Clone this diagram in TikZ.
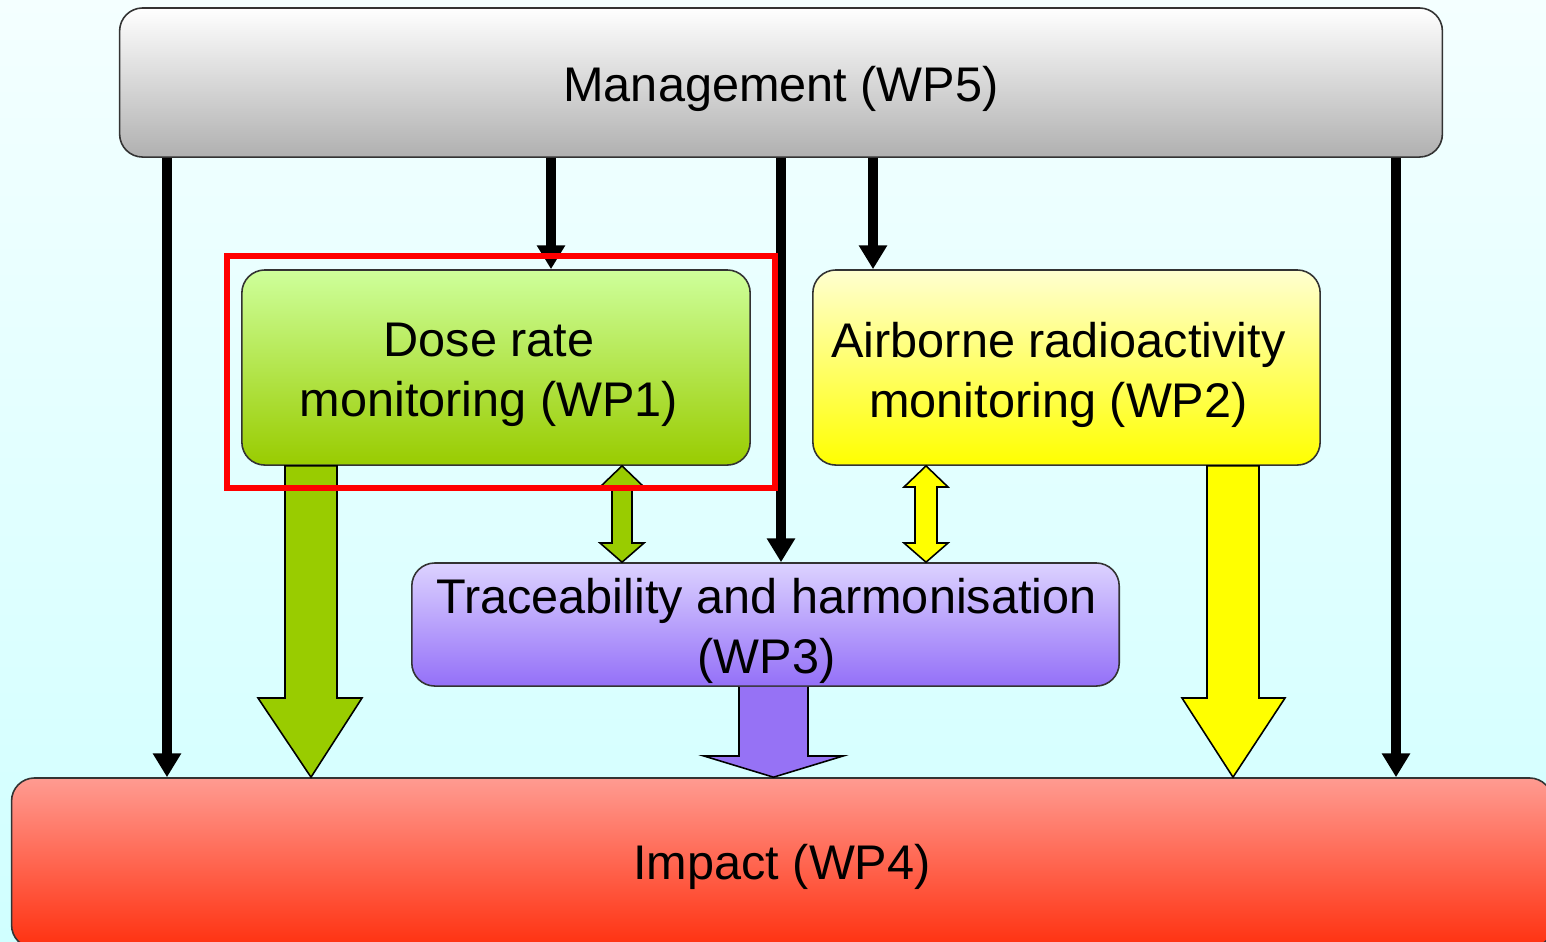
\documentclass[tikz,border=0pt]{standalone}
\usepackage{fontspec}
\setmainfont{Liberation Sans}
\usetikzlibrary{arrows.meta}
\definecolor{bgtop}{RGB}{244,255,255}
\definecolor{bgbot}{RGB}{208,255,255}
\definecolor{mgtop}{RGB}{255,255,255}
\definecolor{mgbot}{RGB}{176,176,176}
\definecolor{dosetop}{RGB}{206,255,155}
\definecolor{dosebot}{RGB}{153,204,0}
\definecolor{airtop}{RGB}{255,255,208}
\definecolor{airbot}{RGB}{255,255,0}
\definecolor{trtop}{RGB}{220,210,255}
\definecolor{trbot}{RGB}{148,112,248}
\definecolor{imtop}{RGB}{255,155,145}
\definecolor{imbot}{RGB}{255,48,15}
\definecolor{greenarr}{RGB}{153,204,0}
\definecolor{yellarr}{RGB}{255,255,0}
\definecolor{purparr}{RGB}{150,114,245}
\definecolor{hlred}{RGB}{255,0,0}
\begin{document}
\begin{tikzpicture}[x=0.01cm,y=-0.01cm,
  font=\fontsize{13.83pt}{17.07pt}\selectfont,
  box/.style={draw=black!80, line width=0.45pt, rounded corners=0.23cm, inner sep=0pt},
  txt/.style={inner sep=0pt, align=center},
  blk/.style={line width=2.75pt, -{Triangle[width=7.7pt,length=6.8pt]}},
  blockarr/.style={draw=black, line width=0.45pt, line join=miter}]
\useasboundingbox (0,0) rectangle (1546,941);
\shade[top color=bgtop, bottom color=bgbot] (0,0) rectangle (1546,941);

% boxes
\node[box, top color=mgtop, bottom color=mgbot, minimum width=13.22cm, minimum height=1.49cm] (mgmt) at (781,82.5) {};
\node[box, top color=dosetop, bottom color=dosebot, minimum width=5.08cm, minimum height=1.95cm] (dose) at (496,367.5) {};
\node[box, top color=airtop, bottom color=airbot, minimum width=5.07cm, minimum height=1.95cm] (air) at (1066.5,367.5) {};
\node[box, top color=trtop, bottom color=trbot, minimum width=7.07cm, minimum height=1.23cm] (trace) at (765.5,624.5) {};
\node[box, top color=imtop, bottom color=imbot, minimum width=15.40cm, minimum height=1.70cm] (impact) at (782,863) {};

% texts
\node[txt] (mgmtt) at ([shift={(0,6)}]mgmt.center) {Management (WP5)};
\node[txt] (doset) at ([shift={(-7,7)}]dose.center) {Dose rate\\monitoring (WP1)};
\node[txt] (airt) at ([shift={(-8,7)}]air.center) {Airborne radioactivity\\monitoring (WP2)};
\node[txt] (tracet) at ([shift={(1,6)}]trace.center) {Traceability and harmonisation\\(WP3)};
\node[txt] (impactt) at ([shift={(0,4)}]impact.center) {Impact (WP4)};

% block arrows
\draw[blockarr, fill=greenarr] (dose.south -| 285,0) -- (dose.south -| 337,0) -- (337,698) -- (362,698) -- (impact.north -| 311,0) -- (258,698) -- (285,698) -- cycle;
\draw[blockarr, fill=yellarr] (air.south -| 1207,0) -- (air.south -| 1259,0) -- (1259,698) -- (1285,698) -- (impact.north -| 1233,0) -- (1182,698) -- (1207,698) -- cycle;
\draw[blockarr, fill=purparr] (trace.south -| 739,0) -- (739,756) -- (704,756) -- (impact.north -| 773.5,0) -- (843,756) -- (808,756) -- (trace.south -| 808,0);
\draw[blockarr, fill=greenarr] (dose.south -| 622,0) -- (644,487) -- (632,487) -- (632,543) -- (644,543) -- (trace.north -| 622,0) -- (600,543) -- (612,543) -- (612,487) -- (600,487) -- cycle;
\draw[blockarr, fill=yellarr] (air.south -| 926,0) -- (948,487) -- (937,487) -- (937,543) -- (948,543) -- (trace.north -| 926,0) -- (904,543) -- (915,543) -- (915,487) -- (904,487) -- cycle;

% black arrows
\draw[blk] (mgmt.south -| 167,0) -- (impact.north -| 167,0);
\draw[blk] (mgmt.south -| 551,0) -- (dose.north -| 551,0);
\draw[blk] (mgmt.south -| 781,0) -- (trace.north -| 781,0);
\draw[blk] (mgmt.south -| 873,0) -- (air.north -| 873,0);
\draw[blk] (mgmt.south -| 1396,0) -- (impact.north -| 1396,0);

% highlight
\node[draw=hlred, line width=1.7pt, minimum width=5.475cm, minimum height=2.315cm, inner sep=0pt] (hl) at (500.75,371.75) {};
\end{tikzpicture}
\end{document}
